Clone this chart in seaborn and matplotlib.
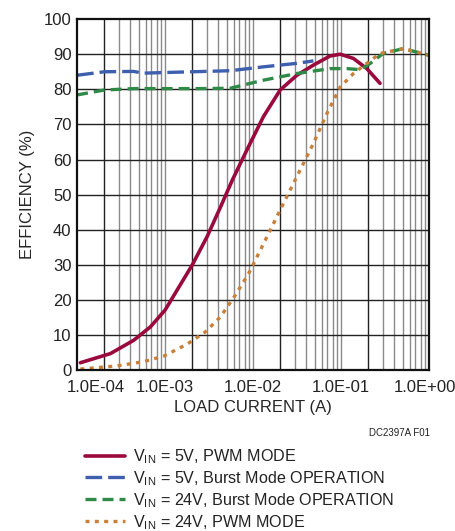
import numpy as np
import pandas as pd
import matplotlib
matplotlib.use("Agg")
import matplotlib.pyplot as plt
import matplotlib.transforms as mtrans
import seaborn as sns

# 数据
x_red = [1.09e-4, 2.39e-4, 4.4e-4, 6.8e-4, 1.0e-3, 1.37e-3, 2.03e-3, 3.0e-3, 4.27e-3, 5.8e-3,
         8.5e-3, 1.31e-2, 2.03e-2, 3.14e-2, 4.85e-2, 7.5e-2, 9.8e-2, 0.138, 0.196, 0.277]
y_red = [2.1, 4.7, 8.5, 12.3, 17.1, 22.8, 29.9, 38.0, 46.5, 54.1,
         62.7, 72.2, 79.8, 84.0, 86.9, 89.5, 90.0, 88.8, 85.9, 81.7]

x_blue = [1e-4, 2.04e-4, 4.4e-4, 5.6e-4, 1.05e-3, 2.04e-3, 5.5e-3, 1.31e-2, 3.14e-2, 4.85e-2]
y_blue = [84.0, 85.0, 85.1, 84.6, 84.8, 85.0, 85.3, 86.4, 87.4, 88.1]

x_green = [1e-4, 2.04e-4, 4.4e-4, 1.05e-3, 2.5e-3, 5.5e-3, 1.31e-2, 3.14e-2, 7.5e-2,
           0.116, 0.165, 0.215, 0.30, 0.51, 1.0]
y_green = [78.4, 79.8, 80.2, 80.2, 80.2, 80.3, 82.6, 84.5, 85.9,
           85.9, 85.6, 87.4, 90.2, 91.6, 89.7]

x_orange = [1.09e-4, 2.85e-4, 5.7e-4, 9.7e-4, 1.78e-3, 2.87e-3, 4.27e-3, 6.3e-3, 8.9e-3, 1.32e-2,
            2.03e-2, 3.14e-2, 4.85e-2, 6.9e-2, 9.8e-2, 0.138, 0.196, 0.277, 0.51, 1.0]
y_orange = [0.3, 1.2, 2.4, 4.0, 7.4, 10.9, 15.2, 21.4, 27.5, 36.1,
            45.6, 55.1, 64.6, 73.1, 80.7, 84.5, 87.4, 90.2, 91.6, 89.7]

labels = [r'V$_{\mathrm{IN}}$ = 5V, PWM MODE',
          r'V$_{\mathrm{IN}}$ = 5V, Burst Mode OPERATION',
          r'V$_{\mathrm{IN}}$ = 24V, Burst Mode OPERATION',
          r'V$_{\mathrm{IN}}$ = 24V, PWM MODE']
xticks = [1e-4, 1e-3, 1e-2, 1e-1, 1e0]
xticklabels = ['1.0E-04', '1.0E-03', '1.0E-02', '1.0E-01', '1.0E+00']
yticks = list(range(0, 101, 10))

sns.set_style("white")
plt.rcParams['font.family'] = ['Liberation Sans', 'DejaVu Sans']
plt.rcParams['mathtext.fontset'] = 'custom'
plt.rcParams['mathtext.rm'] = 'Liberation Sans'
plt.rcParams['text.color'] = '#222222'

fig = plt.figure(figsize=(4.56, 5.31), dpi=100)
ax = fig.add_axes([0.169, 0.303, 0.772, 0.661])

# 网格
ax.set_xscale('log')
for dec in [1e-4, 1e-3, 1e-2, 1e-1]:
    for m in range(1, 10):
        v = dec * m
        if v <= 1e-4:
            continue
        c = '#222222' if m == 2 else '#8a8a8a'
        ax.axvline(v, color=c, lw=1.0, zorder=0)
for v in yticks[1:-1]:
    ax.axhline(v, color='#222222', lw=1.0, zorder=0)

# 曲线
sns.lineplot(x=x_red, y=y_red, ax=ax, color='#9a0a3c', lw=2.6, label=labels[0])
sns.lineplot(x=x_blue, y=y_blue, ax=ax, color='#3d5fad', lw=2.4, label=labels[1])
ax.lines[-1].set_dashes((5, 1.8))
sns.lineplot(x=x_green, y=y_green, ax=ax, color='#2f8a48', lw=2.4, label=labels[2])
ax.lines[-1].set_dashes((3.3, 1.8))
sns.lineplot(x=x_orange, y=y_orange, ax=ax, color='#c8803a', lw=2.4, label=labels[3])
ax.lines[-1].set_dashes((1.2, 1.6))

ax.set_xlim(1e-4, 1e0)
ax.set_ylim(0, 100)
ax.set_xticks(xticks)
ax.set_xticklabels(xticklabels)
ax.xaxis.set_minor_locator(matplotlib.ticker.NullLocator())
ax.set_yticks(yticks)
ax.tick_params(axis='both', length=0, labelsize=12, colors='#222222')
ax.tick_params(axis='x', pad=7)
ax.tick_params(axis='y', pad=4)
xt = ax.get_xticklabels()
xt[0].set_transform(xt[0].get_transform() + mtrans.ScaledTranslation(0.19, 0, fig.dpi_scale_trans))
xt[-1].set_transform(xt[-1].get_transform() + mtrans.ScaledTranslation(-0.04, 0, fig.dpi_scale_trans))
for s in ax.spines.values():
    s.set_color('#111111')
    s.set_linewidth(1.6)

ax.set_xlabel('LOAD CURRENT (A)', fontsize=12, labelpad=4)
ax.set_ylabel('EFFICIENCY (%)', fontsize=12, labelpad=6)
fig.text(0.943, 0.185, 'DC2397A F01', fontsize=7, ha='right', va='center')

handles, labs = ax.get_legend_handles_labels()
ax.get_legend().remove()
fig.legend(handles, labs, loc='upper left', bbox_to_anchor=(0.172, 0.170),
           frameon=False, fontsize=11.6, handlelength=2.5, handletextpad=0.5,
           labelspacing=0.2, borderaxespad=0)

fig.savefig('out.png', dpi=100)
